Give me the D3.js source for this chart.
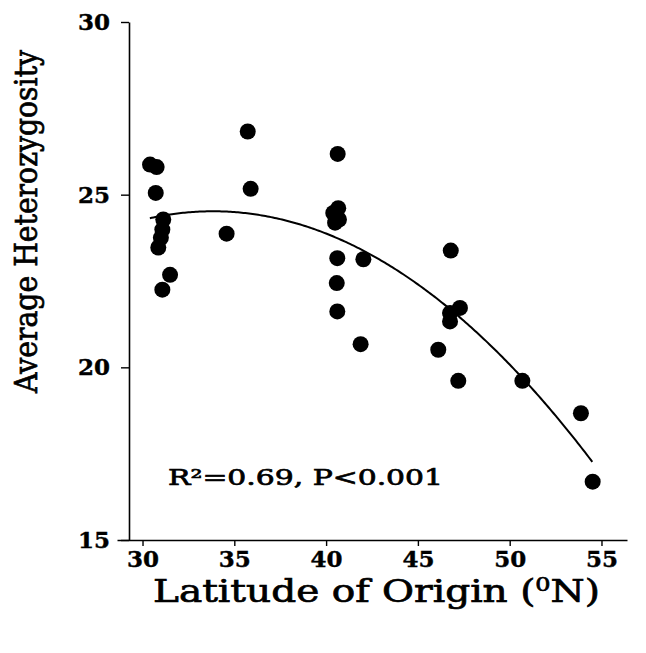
<!DOCTYPE html>
<html>
<head>
<meta charset="utf-8">
<script src="https://cdn.jsdelivr.net/npm/d3@7"></script>
<style>
  html, body { margin: 0; padding: 0; background: #fff; }
  svg { display: block; }
  text { font-family: "DejaVu Serif", "Liberation Serif", serif; fill: #000; }
</style>
</head>
<body>
<svg id="chart" width="646" height="653"></svg>
<script>
// ---- data ----
const latitude = [30.41, 30.77, 30.72, 35.73, 35.89, 40.63, 31.13, 31.08, 31.00, 30.86,
                  34.58, 31.50, 31.08, 40.66, 40.39, 40.70, 40.49, 40.61, 42.03, 40.58,
                  40.61, 41.88, 46.79, 47.29, 46.75, 46.75, 46.11, 47.20, 50.69, 53.88, 54.52];
const heterozygosity = [25.87, 25.80, 25.05, 26.83, 25.17, 26.18, 24.28, 23.99, 23.75, 23.47,
                        23.87, 22.68, 22.25, 24.61, 24.47, 24.28, 24.19, 23.16, 23.13, 22.44,
                        21.62, 20.67, 23.38, 21.72, 21.57, 21.33, 20.51, 19.61, 19.61, 18.67, 16.69];
const xTicks = [30, 35, 40, 45, 50, 55];
const yTicks = [15, 20, 25, 30];
// quadratic fit shown in the figure: y = a + b*x + c*x^2, drawn over fitRange
const fitCoef = [5.05, 1.1506, -0.017];
const fitRange = [30.4, 54.5];
const statText = "R²=0.69, P<0.001";
const xTitle = "Latitude of Origin (";
const yTitle = "Average Heterozygosity";

// ---- drawing ----
const svg = d3.select("#chart");
const x = d3.scaleLinear().domain([28.61, 56.39]).range([117, 627]);
const y = d3.scaleLinear().domain([15, 30]).range([540, 22]);
const yAxisX = 129;

// x axis
const gx = svg.append("g").attr("transform", `translate(0,${y(15)})`)
  .call(d3.axisBottom(x).tickValues(xTicks).tickSize(6).tickSizeOuter(0).tickPadding(6));
gx.select(".domain").attr("stroke", "#000").attr("stroke-width", 1.6);
gx.selectAll(".tick line").attr("stroke", "#000").attr("stroke-width", 1.4);
gx.selectAll(".tick text")
  .attr("font-family", "DejaVu Serif").attr("font-weight", "bold").attr("font-size", 23)
  .attr("stroke", "#000").attr("stroke-width", 0.4)
  .attr("dy", "0.71em").attr("y", 11);

// y axis
const gy = svg.append("g").attr("transform", `translate(${yAxisX},0)`)
  .call(d3.axisLeft(y).tickValues(yTicks).tickSize(8).tickSizeOuter(0).tickPadding(11));
gy.select(".domain").attr("stroke", "#000").attr("stroke-width", 1.6);
gy.selectAll(".tick line").attr("stroke", "#000").attr("stroke-width", 1.4);
gy.selectAll(".tick text")
  .attr("font-family", "DejaVu Serif").attr("font-weight", "bold").attr("font-size", 23)
  .attr("stroke", "#000").attr("stroke-width", 0.4);

// fitted curve
const curvePts = d3.range(fitRange[0], fitRange[1] + 0.001, 0.1).map(v => {
  const xv = Math.min(v, fitRange[1]);
  return [xv, fitCoef[0] + fitCoef[1] * xv + fitCoef[2] * xv * xv];
});
svg.append("path")
  .datum(curvePts)
  .attr("fill", "none").attr("stroke", "#000").attr("stroke-width", 2)
  .attr("d", d3.line().x(d => x(d[0])).y(d => y(d[1])).curve(d3.curveLinear));

// points
svg.append("g").selectAll("circle")
  .data(latitude.map((v, i) => [v, heterozygosity[i]]))
  .join("circle")
  .attr("cx", d => x(d[0])).attr("cy", d => y(d[1]))
  .attr("r", 8).attr("fill", "#000");

// statistics text
svg.append("text")
  .attr("x", 168).attr("y", 485)
  .attr("font-size", 22)
  .attr("stroke", "#000").attr("stroke-width", 0.7)
  .attr("textLength", 275).attr("lengthAdjust", "spacingAndGlyphs")
  .text(statText);

// x title
const xt = svg.append("text")
  .attr("x", 153).attr("y", 602)
  .attr("font-size", 31)
  .attr("stroke", "#000").attr("stroke-width", 0.7)
  .attr("textLength", 447).attr("lengthAdjust", "spacingAndGlyphs");
xt.append("tspan").text(xTitle);
xt.append("tspan").attr("font-size", 19).attr("dy", -11).text("0");
xt.append("tspan").attr("dy", 11).text("N)");

// y title
svg.append("text")
  .attr("transform", "translate(37,221.5) rotate(-90)")
  .attr("text-anchor", "middle")
  .attr("font-size", 31)
  .attr("stroke", "#000").attr("stroke-width", 0.7)
  .attr("textLength", 343).attr("lengthAdjust", "spacingAndGlyphs")
  .text(yTitle);
</script>
</body>
</html>
